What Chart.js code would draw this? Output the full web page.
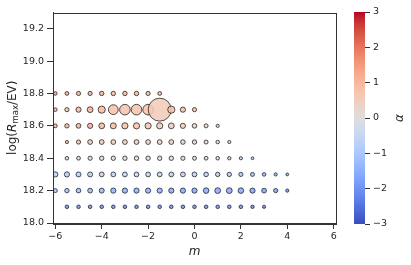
<!DOCTYPE html>
<html>
<head>
<meta charset="utf-8">
<script src="https://cdn.jsdelivr.net/npm/chart.js@4.4.0/dist/chart.umd.min.js"></script>
<style>
  html, body { margin: 0; padding: 0; background: #fff; }
  #wrap { position: relative; width: 411px; height: 265px; }
  #main { position: absolute; left: 0; top: 0; }
  #cbar { position: absolute; left: 336px; top: 0; }
</style>
</head>
<body>
<div id="wrap">
  <canvas id="main" width="411" height="265"></canvas>
  <canvas id="cbar" width="75" height="265"></canvas>
</div>
<script>
// m grid shared by every row
var mValues = [-6, -5.5, -5, -4.5, -4, -3.5, -3, -2.5, -2, -1.5, -1, -0.5, 0, 0.5, 1, 1.5, 2, 2.5, 3, 3.5, 4];
var rowLevels = [18.8, 18.7, 18.6, 18.5, 18.4, 18.3, 18.2, 18.1];

// alpha per point (colour), null = no point
var alpha188 = [1.2, 1.2, 1.1, 1.1, 1.1, 1.0, 1.0, 1.0, 1.0, 1.0, null, null, null, null, null, null, null, null, null, null, null];
var alpha187 = [1.0, 0.8, 1.0, 1.1, 1.0, 0.8, 0.8, 0.8, 0.8, 0.6, 0.8, 0.9, 0.9, null, null, null, null, null, null, null, null];
var alpha186 = [1.0, 1.0, 1.1, 1.1, 1.0, 0.9, 0.8, 0.8, 0.7, 0.6, 0.5, 0.5, 0.4, 0.3, 0.2, null, null, null, null, null, null];
var alpha185 = [null, 0.9, 0.8, 0.6, 0.6, 0.5, 0.5, 0.5, 0.4, 0.4, 0.3, 0.3, 0.3, 0.2, 0.1, 0.0, null, null, null, null, null];
var alpha184 = [null, -0.5, 0.3, 0.2, 0.1, 0.1, 0.1, 0.1, 0.0, 0.0, 0.0, -0.1, -0.2, -0.2, -0.3, -0.5, -0.6, -0.8, null, null, null];
var alpha183 = [-0.8, -0.8, -0.8, -0.8, -0.6, -0.6, -0.6, -0.6, -0.6, -0.6, -0.6, -0.6, -0.7, -0.7, -0.8, -0.9, -1.0, -1.2, -1.3, -1.4, -1.5];
var alpha182 = [-1.0, -1.1, -1.2, -1.3, -1.4, -1.4, -1.5, -1.5, -1.5, -1.5, -1.6, -1.6, -1.6, -1.6, -1.6, -1.6, -1.6, -1.7, -1.7, -1.7, -1.9];
var alpha181 = [null, -2.0, -2.0, -2.0, -2.0, -2.0, -2.0, -2.0, -2.0, -2.0, -2.0, -2.0, -2.0, -2.0, -2.0, -2.0, -2.0, -2.1, -2.1, null, null];

// bubble radius per point
var size188 = [1.8, 1.9, 2.1, 2.1, 2.2, 2.2, 2.2, 2.2, 2.1, 1.9, null, null, null, null, null, null, null, null, null, null, null];
var size187 = [1.8, 2.1, 2.6, 2.9, 3.6, 4.9, 5.3, 5.3, 5.3, 11.5, 3.6, 2.6, 2.1, null, null, null, null, null, null, null, null];
var size186 = [1.9, 2.2, 2.4, 2.6, 2.9, 3, 3.1, 3.1, 3.1, 3.1, 2.9, 2.6, 2.3, 2, 1.6, null, null, null, null, null, null];
var size185 = [null, 1.6, 2.1, 2.4, 2.4, 2.4, 2.4, 2.4, 2.4, 2.4, 2.4, 2.3, 2.2, 2, 1.8, 1.6, null, null, null, null, null];
var size184 = [null, 1.8, 1.9, 2.1, 2.2, 2.2, 2.2, 2.2, 2.2, 2.2, 2.2, 2.1, 2, 1.9, 1.8, 1.7, 1.6, 1.4, null, null, null];
var size183 = [2.6, 2.6, 2.5, 2.5, 2.4, 2.4, 2.4, 2.4, 2.4, 2.4, 2.4, 2.4, 2.4, 2.3, 2.2, 2.2, 2.1, 2, 1.8, 1.6, 1.4];
var size182 = [2, 2.2, 2.3, 2.4, 2.5, 2.6, 2.6, 2.6, 2.6, 2.6, 2.6, 2.6, 2.6, 2.8, 2.9, 2.9, 2.8, 2.6, 2.4, 2.1, 1.6];
var size181 = [null, 1.8, 1.8, 1.8, 1.8, 1.8, 1.8, 1.8, 1.8, 1.8, 1.8, 1.8, 1.8, 1.8, 1.8, 1.8, 1.8, 1.7, 1.6, null, null];

var xTicks = [-6, -4, -2, 0, 2, 4, 6];
var yTicks = [18.0, 18.2, 18.4, 18.6, 18.8, 19.0, 19.2];
var cbarTicks = [-3, -2, -1, 0, 1, 2, 3];

var alphaRows = [alpha188, alpha187, alpha186, alpha185, alpha184, alpha183, alpha182, alpha181];
var sizeRows = [size188, size187, size186, size185, size184, size183, size182, size181];

// coolwarm colour table, 33 stops
var coolwarm = [
  [59,76,192],[68,90,204],[77,104,215],[87,117,225],[98,130,234],[108,142,241],[119,154,247],[130,165,251],
  [141,176,254],[152,185,255],[163,194,255],[174,201,253],[184,208,249],[194,213,244],[204,217,238],[213,219,230],
  [221,221,221],[229,216,209],[236,211,197],[241,204,184],[245,196,172],[247,187,160],[247,177,148],[247,166,137],
  [244,154,123],[241,141,112],[236,127,99],[229,112,88],[222,96,77],[213,80,66],[203,62,56],[192,40,47],[180,4,38]
];

function cmap(t, a) {
  t = Math.max(0, Math.min(1, t));
  var f = t * (coolwarm.length - 1);
  var i = Math.floor(f), k = f - i;
  var c0 = coolwarm[i], c1 = coolwarm[Math.min(i + 1, coolwarm.length - 1)];
  var rgb = [0, 1, 2].map(function(j) { return Math.round(c0[j] + (c1[j] - c0[j]) * k); });
  return 'rgba(' + rgb[0] + ',' + rgb[1] + ',' + rgb[2] + ',' + a + ')';
}
function alphaColor(v, a) { return cmap((v + 3) / 6, a); }
function minus(s) { return String(s).replace('-', '\u2212'); }

var datasets = rowLevels.map(function(level, r) {
  var pts = [], fills = [];
  mValues.forEach(function(m, i) {
    if (alphaRows[r][i] === null) return;
    pts.push({ x: m, y: level, r: sizeRows[r][i] });
    fills.push(alphaColor(alphaRows[r][i], 0.85));
  });
  return {
    data: pts,
    backgroundColor: fills,
    borderColor: 'rgba(25,25,25,0.75)',
    borderWidth: 1
  };
});

var textColor = '#262626';
var tickFont = { family: '"DejaVu Sans"', size: 9.5 };

var framePlugin = {
  id: 'frame',
  afterDraw: function(chart) {
    var c = chart.ctx, a = chart.chartArea;
    c.save();
    c.strokeStyle = '#333';
    c.lineWidth = 1;
    c.strokeRect(Math.round(a.left) + 0.5, Math.round(a.top) + 0.5, Math.round(a.right - a.left), Math.round(a.bottom - a.top));
    // y title with italic R and subscript
    var parts = [
      { t: 'log(', f: '12px "DejaVu Sans"', dy: 0 },
      { t: 'R', f: 'italic 12px "DejaVu Sans"', dy: 0 },
      { t: 'max', f: '8.5px "DejaVu Sans"', dy: 3 },
      { t: '/EV)', f: '12px "DejaVu Sans"', dy: 0 }
    ];
    var w = 0;
    parts.forEach(function(p) { c.font = p.f; w += c.measureText(p.t).width; });
    c.translate(13, (a.top + a.bottom) / 2);
    c.rotate(-Math.PI / 2);
    c.fillStyle = textColor;
    c.textBaseline = 'middle';
    var x = -w / 2;
    parts.forEach(function(p) { c.font = p.f; c.fillText(p.t, x, p.dy); x += c.measureText(p.t).width; });
    c.restore();
  }
};

new Chart(document.getElementById('main'), {
  type: 'bubble',
  data: { datasets: datasets },
  options: {
    responsive: false,
    animation: false,
    events: [],
    layout: { padding: { left: 0, top: 12, right: 75, bottom: 0 } },
    plugins: { legend: { display: false }, tooltip: { enabled: false } },
    scales: {
      x: {
        type: 'linear', min: -6.1, max: 6.1,
        afterBuildTicks: function(s) { s.ticks = xTicks.map(function(v) { return { value: v }; }); },
        afterFit: function(s) { s.height = 42; },
        grid: { drawOnChartArea: false, drawTicks: true, tickLength: 6, color: '#333' },
        border: { display: true, color: '#333' },
        ticks: { color: textColor, font: tickFont, padding: 2, maxRotation: 0, callback: function(v) { return minus(v); } },
        title: { display: true, text: 'm', color: textColor, font: { family: '"DejaVu Sans"', size: 12, style: 'italic' }, padding: { top: 0, bottom: 6 } }
      },
      y: {
        type: 'linear', min: 18.0, max: 19.3,
        afterBuildTicks: function(s) { s.ticks = yTicks.map(function(v) { return { value: v }; }); },
        afterFit: function(s) { s.width = 53; },
        grid: { drawOnChartArea: false, drawTicks: true, tickLength: 6, color: '#333' },
        border: { display: true, color: '#333' },
        ticks: { color: textColor, font: tickFont, padding: 3, callback: function(v) { return v.toFixed(1); } }
      }
    }
  },
  plugins: [framePlugin]
});

// colour bar
var cbarLabelPlugin = {
  id: 'cbarLabel',
  afterDraw: function(chart) {
    var c = chart.ctx, a = chart.chartArea;
    c.save();
    c.translate(64, (a.top + a.bottom) / 2);
    c.rotate(-Math.PI / 2);
    c.fillStyle = textColor;
    c.font = 'italic 12px "DejaVu Sans"';
    c.textAlign = 'center';
    c.textBaseline = 'middle';
    c.fillText('\u03b1', 0, 0);
    c.restore();
  }
};

new Chart(document.getElementById('cbar'), {
  type: 'bar',
  data: {
    labels: [''],
    datasets: [{
      data: [[cbarTicks[0], cbarTicks[cbarTicks.length - 1]]],
      barPercentage: 1,
      categoryPercentage: 1,
      borderWidth: 0,
      backgroundColor: function(ctx) {
        var a = ctx.chart.chartArea;
        if (!a) return null;
        var g = ctx.chart.ctx.createLinearGradient(0, a.bottom, 0, a.top);
        coolwarm.forEach(function(c, i) { g.addColorStop(i / (coolwarm.length - 1), 'rgb(' + c.join(',') + ')'); });
        return g;
      }
    }]
  },
  options: {
    responsive: false,
    animation: false,
    events: [],
    layout: { padding: { left: 18, top: 12, right: 0, bottom: 41 } },
    plugins: { legend: { display: false }, tooltip: { enabled: false } },
    scales: {
      x: { display: false },
      y: {
        position: 'right', min: -3, max: 3,
        afterBuildTicks: function(s) { s.ticks = cbarTicks.map(function(v) { return { value: v }; }); },
        afterFit: function(s) { s.width = 46; },
        grid: { drawOnChartArea: false, drawTicks: true, tickLength: 5, color: '#333' },
        border: { display: false },
        ticks: { color: textColor, font: tickFont, padding: 3, callback: function(v) { return minus(v); } }
      }
    }
  },
  plugins: [cbarLabelPlugin]
});
</script>
</body>
</html>
